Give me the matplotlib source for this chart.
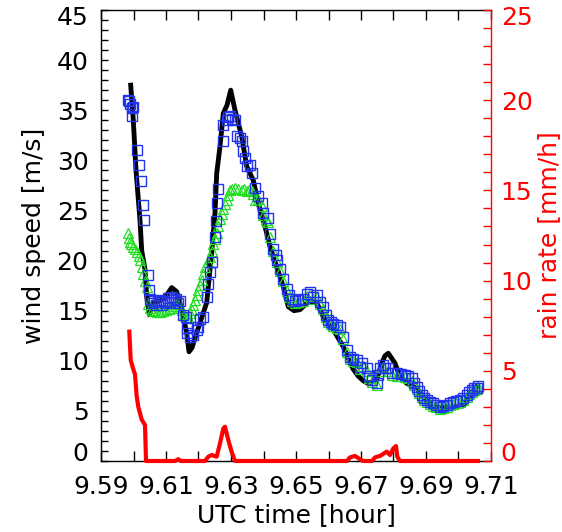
import numpy as np
import matplotlib
matplotlib.use("Agg")
import matplotlib.pyplot as plt
from matplotlib.ticker import MultipleLocator, FixedLocator, FuncFormatter

# ---------------- data ----------------
# reference wind speed (black line)
t_black = [9.59914, 9.59994, 9.60077, 9.60200, 9.60252, 9.60354, 9.60406, 9.60486,
           9.60600, 9.60815, 9.60969, 9.61175, 9.61329, 9.61483, 9.61637, 9.61708,
           9.61800, 9.61945, 9.62098, 9.62252, 9.62406, 9.62508, 9.62560, 9.62662,
           9.62763, 9.62877, 9.62991, 9.63123, 9.63329, 9.63483, 9.63686, 9.63840,
           9.64046, 9.64200, 9.64406, 9.64609, 9.64763, 9.64938, 9.65123, 9.65378,
           9.65637, 9.65840, 9.66148, 9.66455, 9.66754, 9.66908, 9.67071, 9.67215,
           9.67483, 9.67637, 9.67738, 9.67840, 9.68046, 9.68200, 9.68406, 9.68714,
           9.68969, 9.69175, 9.69532, 9.69831, 9.70148, 9.70354, 9.70560]
w_black = [37.5, 34.0, 29.0, 24.0, 21.0, 19.1, 16.4, 14.6,
           15.8, 16.0, 16.3, 17.3, 16.9, 15.1, 12.8, 10.9,
           11.3, 12.8, 14.3, 15.8, 20.8, 24.8, 28.7, 31.4,
           34.7, 35.5, 37.0, 35.0, 32.4, 29.4, 28.0, 25.7,
           23.4, 21.4, 19.4, 17.4, 15.4, 15.0, 15.1, 15.9,
           15.8, 14.4, 13.1, 11.4, 9.2, 8.5, 8.0, 7.75,
           8.1, 9.75, 10.5, 10.75, 9.75, 8.4, 7.75, 7.25,
           6.25, 5.4, 5.35, 5.4, 5.5, 6.4, 7.4]

# retrieved wind speed (blue squares)
t_blue = [9.59840, 9.59871, 9.59892, 9.59945, 9.59975, 9.59963, 9.60117, 9.60178,
          9.60222, 9.60283, 9.60323, 9.60437, 9.60486, 9.60523, 9.60569, 9.60631,
          9.60692, 9.60754, 9.60815, 9.60877, 9.60938, 9.61000, 9.61062, 9.61123,
          9.61185, 9.61246, 9.61308, 9.61369, 9.61431, 9.61532, 9.61615, 9.61637,
          9.61655, 9.61738, 9.61840, 9.61945, 9.61994, 9.62046, 9.62148, 9.62252,
          9.62302, 9.62354, 9.62406, 9.62508, 9.62538, 9.62560, 9.62591, 9.62763,
          9.62765, 9.62868, 9.62923, 9.62969, 9.63031, 9.63123, 9.63175, 9.63277,
          9.63329, 9.63378, 9.63431, 9.63501, 9.63585, 9.63637, 9.63738, 9.63840,
          9.63945, 9.63994, 9.64148, 9.64200, 9.64302, 9.64385, 9.64406, 9.64508,
          9.64609, 9.64714, 9.64785, 9.64868, 9.64969, 9.65071, 9.65225, 9.65338,
          9.65431, 9.65523, 9.65637, 9.65738, 9.65840, 9.65923, 9.65994, 9.66077,
          9.66148, 9.66262, 9.66354, 9.66455, 9.66560, 9.66662, 9.66754, 9.66868,
          9.66969, 9.67022, 9.67175, 9.67246, 9.67329, 9.67483, 9.67538, 9.67585,
          9.67686, 9.67738, 9.67840, 9.67954, 9.68098, 9.68231, 9.68354, 9.68446,
          9.68560, 9.68631, 9.68714, 9.68785, 9.68868, 9.68938, 9.69022, 9.69123,
          9.69225, 9.69323, 9.69431, 9.69538, 9.69637, 9.69738, 9.69840, 9.69938,
          9.70046, 9.70148, 9.70252, 9.70323, 9.70406, 9.70477, 9.70560, 9.70585]
w_blue = [36.0, 35.9, 35.6, 35.2, 35.3, 34.4, 31.0, 29.5,
          27.9, 25.5, 24.0, 18.6, 17.1, 16.2, 15.8, 16.0,
          15.6, 15.9, 16.1, 15.6, 16.0, 15.8, 16.3, 15.9,
          16.4, 16.1, 16.2, 15.8, 16.0, 14.6, 14.4, 13.3,
          12.8, 12.4, 12.6, 13.1, 13.4, 14.2, 14.4, 16.4,
          17.7, 18.9, 19.9, 22.4, 23.9, 25.7, 27.1, 31.9,
          33.5, 34.0, 34.3, 34.4, 34.1, 34.0, 32.4, 32.2,
          31.9, 30.9, 30.2, 29.4, 29.5, 28.7, 27.2, 26.4,
          25.7, 24.7, 24.2, 22.6, 21.2, 20.6, 20.1, 19.2,
          18.2, 17.2, 16.6, 16.2, 16.0, 16.1, 16.2, 16.7,
          16.9, 16.4, 16.6, 15.9, 15.4, 14.6, 14.1, 13.9,
          13.7, 13.6, 13.4, 12.4, 11.1, 10.4, 10.2, 10.1,
          9.4, 9.75, 9.25, 8.5, 8.1, 7.75, 8.6, 9.25,
          9.6, 9.3, 9.25, 8.8, 8.75, 8.7, 8.6, 8.5,
          8.25, 7.8, 7.4, 7.0, 6.6, 6.3, 6.1, 5.9,
          5.75, 5.6, 5.4, 5.5, 5.6, 5.8, 5.9, 6.0,
          6.1, 6.3, 6.6, 6.9, 7.1, 7.3, 7.25, 7.5]

# model wind speed (green triangles)
t_green = [9.59840, 9.59871, 9.59892, 9.59938, 9.59994, 9.60046, 9.60098, 9.60154,
           9.60200, 9.60252, 9.60302, 9.60354, 9.60406, 9.60455, 9.60508, 9.60560,
           9.60631, 9.60723, 9.60815, 9.60908, 9.61000, 9.61092, 9.61185, 9.61262,
           9.61329, 9.61400, 9.61483, 9.61554, 9.61615, 9.61686, 9.61738, 9.61791,
           9.61840, 9.61892, 9.61945, 9.61994, 9.62046, 9.62098, 9.62148, 9.62200,
           9.62277, 9.62354, 9.62406, 9.62455, 9.62508, 9.62560, 9.62609, 9.62662,
           9.62714, 9.62763, 9.62815, 9.62868, 9.62917, 9.62969, 9.63031, 9.63123,
           9.63215, 9.63329, 9.63400, 9.63483, 9.63554, 9.63631, 9.63686, 9.63738,
           9.63840, 9.63945, 9.63994, 9.64077, 9.64148, 9.64200, 9.64302, 9.64406,
           9.64508, 9.64609, 9.64714, 9.64785, 9.64868, 9.64969, 9.65071, 9.65225,
           9.65338, 9.65431, 9.65523, 9.65637, 9.65738, 9.65840, 9.65923, 9.65994,
           9.66077, 9.66148, 9.66262, 9.66354, 9.66455, 9.66560, 9.66662, 9.66754,
           9.66868, 9.66969, 9.67062, 9.67175, 9.67246, 9.67329, 9.67483, 9.67585,
           9.67686, 9.67840, 9.67954, 9.68098, 9.68231, 9.68354, 9.68446, 9.68560,
           9.68631, 9.68714, 9.68785, 9.68868, 9.68938, 9.69022, 9.69123, 9.69225,
           9.69323, 9.69431, 9.69538, 9.69637, 9.69738, 9.69840, 9.69938, 9.70046,
           9.70148, 9.70252, 9.70323, 9.70406, 9.70477, 9.70560, 9.70585]
w_green = [22.7, 22.3, 21.9, 21.7, 21.4, 21.2, 20.9, 20.5,
           20.1, 19.4, 18.7, 18.0, 17.4, 15.7, 15.3, 15.1,
           15.0, 14.9, 14.9, 15.0, 15.1, 15.2, 15.3, 15.5,
           15.7, 15.3, 15.1, 14.7, 14.4, 14.4, 14.8, 15.1,
           15.6, 16.1, 16.6, 17.1, 17.6, 18.1, 18.7, 19.4,
           19.9, 20.4, 21.0, 21.7, 22.2, 22.7, 23.4, 24.1,
           24.6, 25.1, 25.6, 26.0, 26.5, 27.0, 27.1, 27.2,
           27.1, 27.0, 27.1, 26.9, 27.0, 26.9, 26.6, 26.0,
           26.1, 25.4, 24.5, 24.0, 23.8, 22.4, 21.0, 19.9,
           19.0, 18.0, 17.0, 16.4, 16.0, 15.8, 15.9, 16.0,
           16.5, 16.7, 16.2, 16.4, 15.7, 15.2, 14.4, 13.9,
           13.7, 13.5, 13.3, 13.2, 12.2, 10.9, 10.2, 10.0,
           9.9, 9.2, 9.5, 9.0, 8.3, 7.9, 7.6, 9.0,
           9.4, 9.0, 8.6, 8.5, 8.5, 8.4, 8.3, 8.0,
           7.6, 7.2, 6.8, 6.4, 6.1, 5.9, 5.7, 5.5,
           5.4, 5.2, 5.3, 5.4, 5.6, 5.7, 5.8, 5.9,
           6.1, 6.4, 6.7, 6.9, 7.1, 7.2, 7.4]

# rain rate (red line)
t_rain = [9.59871, 9.59914, 9.59975, 9.60046, 9.60098, 9.60148, 9.60252, 9.60354,
          9.60385, 9.61277, 9.61378, 9.61462, 9.62200, 9.62302, 9.62406, 9.62560,
          9.62662, 9.62763, 9.62815, 9.62917, 9.63022, 9.63123, 9.66569, 9.66662,
          9.66815, 9.66969, 9.67062, 9.67338, 9.67431, 9.67585, 9.67791, 9.67892,
          9.67994, 9.68077, 9.68117, 9.68200, 9.70600]
r_rain = [7.17, 5.6, 5.2, 4.8, 3.6, 3.0, 2.3, 2.0,
          0.0, 0.0, 0.1, 0.0, 0.0, 0.24, 0.33, 0.24,
          0.98, 1.8, 1.9, 1.16, 0.5, 0.0, 0.0, 0.2,
          0.28, 0.1, 0.0, 0.0, 0.2, 0.28, 0.52, 0.33,
          0.7, 0.83, 0.24, 0.0, 0.0]

x_ticks = [9.59, 9.61, 9.63, 9.65, 9.67, 9.69, 9.71]
x_ticklabels = ["9.59", "9.61", "9.63", "9.65", "9.67", "9.69", "9.71"]
wind_range = (0, 45)
rain_range = (0, 25)

# ---------------- figure ----------------
plt.rcParams["font.family"] = ["DejaVu Sans"]
FS = 18
PX = 100 / 72.0
fig = plt.figure(figsize=(5.62, 5.32), dpi=100)
ax = fig.add_axes([101/562, 71/532, 390/562, 451/532])

ax.plot(t_black, w_black, color="black", lw=3.5, zorder=2)
ax.plot(t_green, w_green, linestyle="none", marker="^", ms=7.5, mfc="none",
        mec="#22dd22", mew=0.9, zorder=3)
ax.plot(t_blue, w_blue, linestyle="none", marker="s", ms=7.5, mfc="none",
        mec="#2233ee", mew=1.0, zorder=4)

ax.set_xlim(9.59, 9.71)
ax.set_ylim(*wind_range)
ax.xaxis.set_major_locator(FixedLocator(x_ticks))
ax.xaxis.set_minor_locator(MultipleLocator(0.01))
ax.set_xticklabels(x_ticklabels)
ax.yaxis.set_major_locator(MultipleLocator(5))
ax.yaxis.set_minor_locator(MultipleLocator(1))
# end labels are drawn separately (slightly inside the range, as in the original)
ax.yaxis.set_major_formatter(FuncFormatter(
    lambda v, p: "" if v in wind_range else "%d" % round(v)))
YPAD = 9
ax.tick_params(axis="x", which="both", direction="in", top=True, length=7,
               width=1, labelsize=FS, pad=10)
ax.tick_params(axis="y", which="both", direction="in", right=False, length=5,
               width=1, labelsize=FS, pad=YPAD)
for s in ax.spines.values():
    s.set_linewidth(1.0)
ax.spines["right"].set_visible(False)
ax.set_xlabel("UTC time [hour]", fontsize=FS, labelpad=3)
ax.set_ylabel("wind speed [m/s]", fontsize=FS, labelpad=8)
for v, dy in ((wind_range[0], 7), (wind_range[1], -8)):
    ax.annotate("%d" % v, xy=(0, v), xycoords=("axes fraction", "data"),
                xytext=(-YPAD * PX, dy), textcoords="offset pixels",
                ha="right", va="center", fontsize=FS, color="black")

ax2 = ax.twinx()
ax2.plot(t_rain, r_rain, color="red", lw=3.0, clip_on=False, zorder=5)
ax2.set_ylim(*rain_range)
ax2.yaxis.set_major_locator(MultipleLocator(5))
ax2.yaxis.set_minor_locator(MultipleLocator(1))
ax2.yaxis.set_major_formatter(FuncFormatter(
    lambda v, p: "" if v in rain_range else "%d" % round(v)))
RPAD = 7
ax2.tick_params(axis="y", which="both", direction="in", length=6, width=1,
                colors="red", labelsize=FS, pad=RPAD)
for k in ["left", "top", "bottom"]:
    ax2.spines[k].set_visible(False)
ax2.spines["right"].set_color("red")
ax2.spines["right"].set_linewidth(1.0)
ax2.set_ylabel("rain rate [mm/h]", color="red", fontsize=FS, labelpad=3)
for v, dy in ((rain_range[0], 7), (rain_range[1], -8)):
    ax2.annotate("%d" % v, xy=(1, v), xycoords=("axes fraction", "data"),
                 xytext=(RPAD * PX, dy), textcoords="offset pixels",
                 ha="left", va="center", fontsize=FS, color="red")

fig.savefig("out.png", dpi=100)
